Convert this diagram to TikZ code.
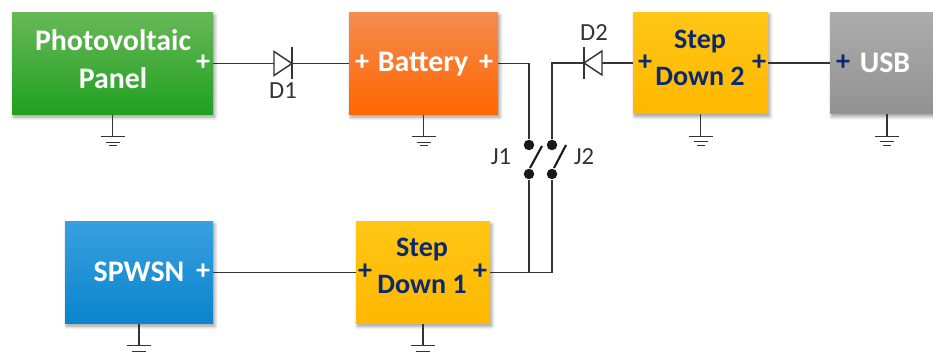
\documentclass[tikz,border=0pt]{standalone}
\usepackage{fontspec}
\setmainfont{Carlito}
\usetikzlibrary{calc,shadows.blur}
\definecolor{navyplus}{HTML}{0B2A6E}
\definecolor{wirecol}{HTML}{333333}
\tikzset{
  box/.style={minimum width=#1*0.02cm,minimum height=2.04cm,inner sep=0pt,
    blur shadow={shadow xshift=1pt,shadow yshift=-1.5pt,shadow blur steps=6,shadow opacity=40}},
  boxw/.style={align=center,inner sep=0pt,font=\fontsize{17}{21.5}\selectfont\bfseries,text=white},
  boxb/.style={boxw,font=\fontsize{16}{21}\selectfont\bfseries,text=navyplus},
  plusw/.style={font=\fontsize{16}{16}\selectfont\bfseries,text=white,inner sep=0pt},
  plusb/.style={plusw,text=navyplus},
  lab/.style={font=\fontsize{14}{14}\selectfont,text=black!80,inner sep=0pt},
  contact/.style={circle,fill=black!90,inner sep=0pt,minimum size=0.21cm},
  wire/.style={draw=wirecol,line width=0.7pt},
  ground/.pic={
    \draw[wire] (-12,0) -- (12,0);
    \draw[wire] (-7,5.5) -- (7,5.5);
    \draw[wire] (-4,9) -- (4,9);
  },
  diode/.pic={
    \draw[wire,line width=0.8pt,fill=white] (-9,-12) -- (9,0) -- (-9,12) -- cycle;
    \draw[wire,line width=0.8pt] (9,-16) -- (9,16);
  }
}
\begin{document}
\begin{tikzpicture}[x=0.02cm,y=-0.02cm]
\useasboundingbox (0,0) rectangle (933,354);
\clip (0,0) rectangle (933,354);
% blocks
\node[box=201,top color={rgb,255:red,104;green,184;blue,88},bottom color={rgb,255:red,32;green,160;blue,32}] (pv) at (112.5,63.5) {};
\node[box=149,top color={rgb,255:red,245;green,140;blue,80},bottom color={rgb,255:red,255;green,102;blue,0}] (bat) at (423.5,63.5) {};
\node[box=135,top color={rgb,255:red,255;green,198;blue,20},bottom color={rgb,255:red,255;green,184;blue,0}] (sd2) at (700.5,63) {};
\node[box=114,top color={rgb,255:red,172;green,172;blue,172},bottom color={rgb,255:red,146;green,146;blue,146}] (usb) at (887,63) {};
\node[box=148,top color={rgb,255:red,56;green,160;blue,224},bottom color={rgb,255:red,10;green,132;blue,204}] (sp) at (139,272.5) {};
\node[box=134,top color={rgb,255:red,255;green,198;blue,20},bottom color={rgb,255:red,255;green,184;blue,0}] (sd1) at (423,272.5) {};
% block texts
\node[boxw] (tpv) at (113,59.5) {Photovoltaic\\Panel};
\node[boxw] (tbat) at (423,64) {Battery};
\node[boxb] (tsd2) at (700,57.5) {Step\\Down 2};
\node[boxw] (tusb) at (885,63) {USB};
\node[boxw] (tsp) at (139,272) {SPWSN};
\node[boxb] (tsd1) at (422,266) {Step\\Down 1};
% plus signs
\foreach \name/\x/\y in {a/203/63,b/362/63,c/486/63,e/203/272}
  \node[plusw] (pl\name) at (\x,\y) {+};
\foreach \name/\x/\y in {f/645/63,g/759/63,h/843/63,i/365/272,j/480/272}
  \node[plusb] (pl\name) at (\x,\y) {+};
% switch contacts
\node[contact] (j1a) at (529,145) {};
\node[contact] (j1b) at (529,174) {};
\node[contact] (j2a) at (552,145) {};
\node[contact] (j2b) at (552,174) {};
\coordinate (d1) at (283,63.5);
\coordinate (d2) at (593,63);
% wires
\draw[wire] (pv.east) -- (d1) -- (bat.west);
\draw[wire] (bat.east) -| (j1a);
\draw[wire] (j2a) |- (d2) -- (sd2.west);
\draw[wire] (sd2.east) -- (usb.west);
\draw[wire] (sp.east) -- (sd1.west);
\draw[wire] (sd1.east) -| (j1b);
\draw[wire] (sd1.east) -| (j2b);
\draw[line width=1.2pt,black!90] ($(j1b)+(1,-6)$) -- ($(j1b)+(13,-28)$);
\draw[line width=1.2pt,black!90] ($(j2b)+(2,-6)$) -- ($(j2b)+(14,-29)$);
% grounds
\foreach \n in {pv,bat,sd2,usb,sp,sd1}
  \draw[wire] (\n.south) -- ++(0,22) pic{ground};
\pic at (d1) {diode};
\pic[rotate=180] at (d2) {diode};
% labels
\node[lab] (ld1) at (283,91) {D1};
\node[lab] (ld2) at (594,33) {D2};
\node[lab] (lj1) at (501,157) {J1};
\node[lab] (lj2) at (584,157) {J2};
\end{tikzpicture}
\end{document}
